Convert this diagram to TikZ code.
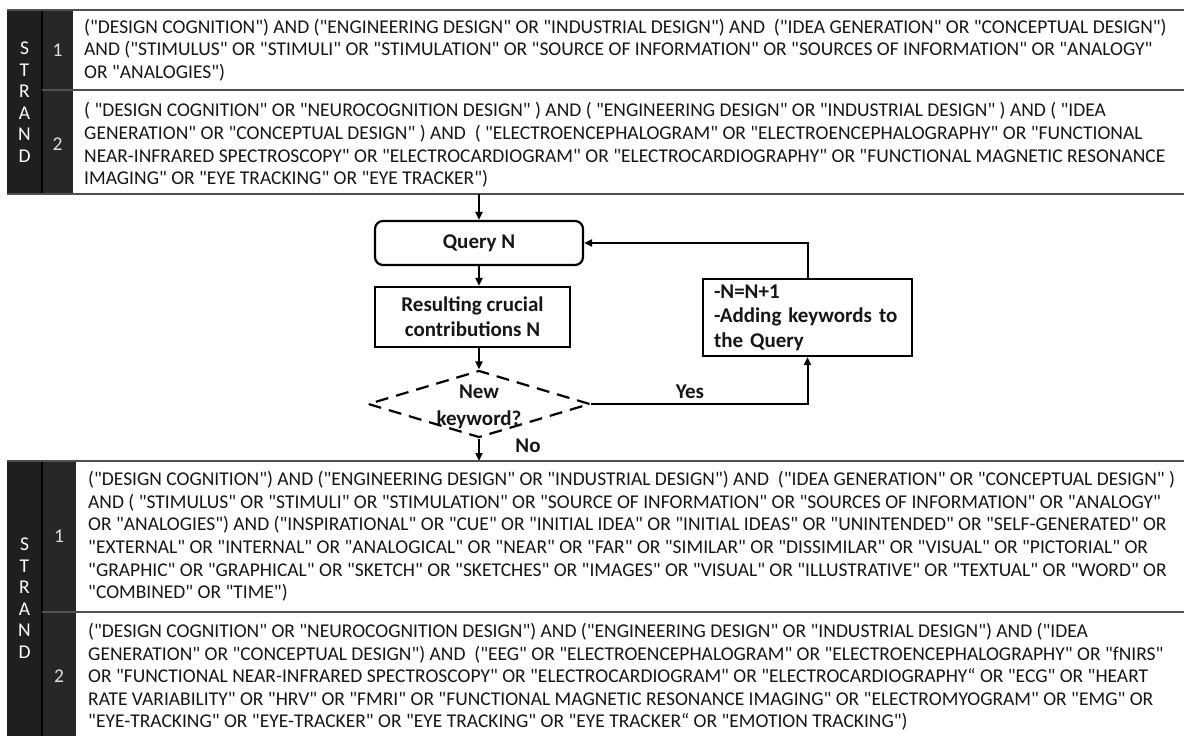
\documentclass[tikz,border=0pt]{standalone}
\usepackage{fontspec}
\setmainfont{Carlito}[Ligatures=TeXOff]
\usetikzlibrary{shapes.geometric,arrows.meta}
\definecolor{darkA}{HTML}{1F1F1F}
\definecolor{darkB}{HTML}{272727}
\definecolor{txt}{HTML}{161616}
\definecolor{rulec}{HTML}{505050}
\begin{document}
\begin{tikzpicture}[x=1pt,y=-1pt,
  tabtext/.style={anchor=west, align=left, inner sep=0pt, font=\fontsize{19.5}{22.6}\selectfont, text=txt},
  strand/.style={align=center, inner sep=0pt, font=\fontsize{19.5}{21.5}\selectfont, text=white},
  numc/.style={inner sep=0pt, font=\fontsize{19.5}{22}\selectfont, text=white!88!black},
  hrule/.style={draw=rulec, line width=1.6pt},
  vrule/.style={draw=black, line width=1.2pt},
  fbox/.style={draw=black, line width=2.2pt, inner sep=0pt, align=center, font=\bfseries\fontsize{21}{25}\selectfont, text=txt},
  dia/.style={draw=black, line width=2.2pt, dash pattern=on 13pt off 8pt, shape=diamond, inner sep=0pt},
  lbl/.style={inner sep=0pt, font=\bfseries\fontsize{21}{25}\selectfont, text=txt},
  arr/.style={draw=black, line width=2pt, -{Triangle[length=8pt,width=7pt]}}]
\useasboundingbox (0,0) rectangle (1184,736);
\fill[white] (0,0) rectangle (1184,736);

% ---------- top table ----------
\fill[darkA] (7,10) rectangle (42,194);
\fill[darkB] (42,10) rectangle (73,194);
\draw[vrule] (42,10) -- (42,194);
\draw[hrule] (7,10) -- (1184,10);
\draw[hrule] (42,90) -- (1184,90);
\draw[hrule] (7,194) -- (1184,194);
\node[strand] (s1) at (24.5,102) {S\\T\\R\\A\\N\\D};
\node[numc] (n11) at (57.5,50) {1};
\node[numc] (n12) at (57.5,144) {2};
\node[tabtext] (r11) at (84,50) {("DESIGN COGNITION") AND ("ENGINEERING DESIGN" OR "INDUSTRIAL DESIGN") AND\ \ ("IDEA GENERATION" OR "CONCEPTUAL DESIGN")\\
AND ("STIMULUS" OR "STIMULI" OR "STIMULATION" OR "SOURCE OF INFORMATION" OR "SOURCES OF INFORMATION" OR "ANALOGY"\\
OR "ANALOGIES")};
\node[tabtext] (r12) at (84,145) {( "DESIGN COGNITION" OR "NEUROCOGNITION DESIGN" ) AND ( "ENGINEERING DESIGN" OR "INDUSTRIAL DESIGN" ) AND ( "IDEA\\
GENERATION" OR "CONCEPTUAL DESIGN" ) AND\ \ ( "ELECTROENCEPHALOGRAM" OR "ELECTROENCEPHALOGRAPHY" OR "FUNCTIONAL\\
NEAR-INFRARED SPECTROSCOPY" OR "ELECTROCARDIOGRAM" OR "ELECTROCARDIOGRAPHY" OR "FUNCTIONAL MAGNETIC RESONANCE\\
IMAGING" OR "EYE TRACKING" OR "EYE TRACKER")};
\coordinate (t1b) at (479,194);

% ---------- flowchart ----------
\node[fbox, rounded corners=8pt, minimum width=208, minimum height=44] (q) at (479,243) {Query N};
\node[fbox, minimum width=195, minimum height=60] (r) at (472.5,317) {Resulting crucial\\contributions N};
\node[dia, minimum width=222, minimum height=67] (d) at (479,404) {};
\node[lbl, align=center, font=\bfseries\fontsize{21}{27}\selectfont] (dt) at (479,407) {New\\keyword?};
\node[fbox, minimum width=209, minimum height=77, text width=187, align=left, font=\bfseries\fontsize{21}{24.5}\selectfont] (k) at (807.5,317.5) {-N=N+1\\-Adding keywords to\\the Query};
\node[lbl] (yes) at (690,392) {Yes};
\node[lbl] (no) at (528,446) {No};
\coordinate (b1t) at (479,461);

\draw[arr] (t1b) -- (q.north);
\draw[arr] (q.south) -- (q.south |- r.north);
\draw[arr] (q.south |- r.south) -- (d.north);
\draw[arr] (d.south) -- (b1t);
\draw[arr] (d.east) -| (k.south);
\draw[arr] (k.north) |- (q.east);

% ---------- bottom table ----------
\fill[darkA] (7,461) rectangle (42,736);
\fill[darkB] (42,461) rectangle (76,736);
\draw[vrule] (42,461) -- (42,736);
\draw[hrule] (7,461) -- (1184,461);
\draw[hrule] (42,612) -- (1184,612);
\node[strand] (s2) at (24.5,598) {S\\T\\R\\A\\N\\D};
\node[numc] (n21) at (59,536.5) {1};
\node[numc] (n22) at (59,676) {2};
\node[tabtext] (r21) at (88,536.5) {("DESIGN COGNITION") AND ("ENGINEERING DESIGN" OR "INDUSTRIAL DESIGN") AND\ \ ("IDEA GENERATION" OR "CONCEPTUAL DESIGN" )\\
AND ( "STIMULUS" OR "STIMULI" OR "STIMULATION" OR "SOURCE OF INFORMATION" OR "SOURCES OF INFORMATION" OR "ANALOGY"\\
OR "ANALOGIES") AND ("INSPIRATIONAL" OR "CUE" OR "INITIAL IDEA" OR "INITIAL IDEAS" OR "UNINTENDED" OR "SELF-GENERATED" OR\\
"EXTERNAL" OR "INTERNAL" OR "ANALOGICAL" OR "NEAR" OR "FAR" OR "SIMILAR" OR "DISSIMILAR" OR "VISUAL" OR "PICTORIAL" OR\\
"GRAPHIC" OR "GRAPHICAL" OR "SKETCH" OR "SKETCHES" OR "IMAGES" OR "VISUAL" OR "ILLUSTRATIVE" OR "TEXTUAL" OR "WORD" OR\\
"COMBINED" OR "TIME")};
\node[tabtext] (r22) at (88,677) {("DESIGN COGNITION" OR "NEUROCOGNITION DESIGN") AND ("ENGINEERING DESIGN" OR "INDUSTRIAL DESIGN") AND ("IDEA\\
GENERATION" OR "CONCEPTUAL DESIGN") AND\ \ ("EEG" OR "ELECTROENCEPHALOGRAM" OR "ELECTROENCEPHALOGRAPHY" OR "fNIRS"\\
OR "FUNCTIONAL NEAR-INFRARED SPECTROSCOPY" OR "ELECTROCARDIOGRAM" OR "ELECTROCARDIOGRAPHY“ OR "ECG" OR "HEART\\
RATE VARIABILITY" OR "HRV" OR "FMRI" OR "FUNCTIONAL MAGNETIC RESONANCE IMAGING" OR "ELECTROMYOGRAM" OR "EMG" OR\\
"EYE-TRACKING" OR "EYE-TRACKER" OR "EYE TRACKING" OR "EYE TRACKER“ OR "EMOTION TRACKING")};
\end{tikzpicture}
\end{document}
